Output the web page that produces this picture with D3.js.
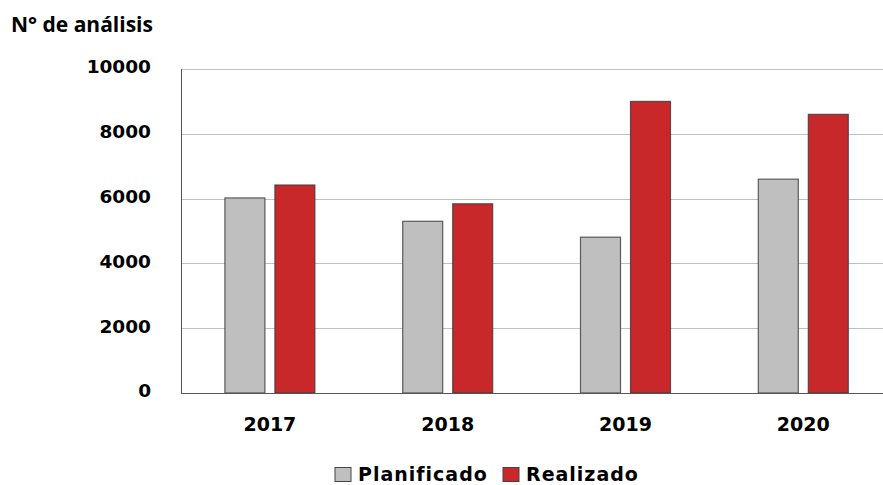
<!DOCTYPE html>
<html>
<head>
<meta charset="utf-8">
<script src="https://cdn.jsdelivr.net/npm/d3@7"></script>
<style>
  body { margin: 0; background: #fff; }
  svg { display: block; }
</style>
</head>
<body>
<div id="chart"></div>
<script>
// Chart data
const years = ["2017", "2018", "2019", "2020"];
const planificado = [6020, 5300, 4810, 6600];
const realizado = [6420, 5840, 9000, 8600];
const seriesNames = ["Planificado", "Realizado"];
const yTicks = [0, 2000, 4000, 6000, 8000, 10000];

const width = 883, height = 485;
const margin = { left: 181, top: 69, bottom: 92 };
const colors = ["#bfbfbf", "#c8282a"];
const labelFont = "'DejaVu Sans', Verdana, sans-serif";

const svg = d3.select("#chart")
    .append("svg")
    .attr("width", width)
    .attr("height", height);

// Scales
const x = d3.scaleBand()
    .domain(years)
    .range([margin.left, margin.left + 4 * 177.8]);

const y = d3.scaleLinear()
    .domain([0, 10000])
    .range([height - margin.bottom, margin.top]);

// Gridlines
svg.append("g")
    .selectAll("line")
    .data(yTicks.filter(d => d > 0))
    .enter()
    .append("line")
    .attr("x1", margin.left)
    .attr("x2", width)
    .attr("y1", d => Math.round(y(d)) + 0.5)
    .attr("y2", d => Math.round(y(d)) + 0.5)
    .attr("stroke", "#c0c0c0")
    .attr("stroke-width", 1);

// Y tick labels
svg.append("g")
    .selectAll("text")
    .data(yTicks)
    .enter()
    .append("text")
    .attr("x", 151)
    .attr("y", d => y(d) - 2)
    .attr("dy", "0.35em")
    .attr("text-anchor", "end")
    .style("font-family", labelFont)
    .style("font-weight", "bold")
    .style("font-size", "18.5px")
    .text(d => d);

// Bars
const barW = 40, gap = 10;
const groups = svg.append("g")
    .selectAll("g")
    .data(years.map((yr, i) => ({ yr, vals: [planificado[i], realizado[i]] })))
    .enter()
    .append("g");

groups.selectAll("rect")
    .data(d => d.vals.map((v, j) => ({ yr: d.yr, v, j })))
    .enter()
    .append("rect")
    .attr("x", d => x(d.yr) + x.bandwidth() / 2 + (d.j === 0 ? -(barW + gap / 2) : gap / 2))
    .attr("y", d => y(d.v))
    .attr("width", barW)
    .attr("height", d => y(0) - y(d.v))
    .attr("fill", d => colors[d.j])
    .attr("stroke", "#3a3a3a")
    .attr("stroke-opacity", 0.8)
    .attr("stroke-width", 1.2);

// Axis lines
svg.append("line")
    .attr("x1", margin.left + 0.5).attr("x2", margin.left + 0.5)
    .attr("y1", margin.top).attr("y2", y(0))
    .attr("stroke", "#555").attr("stroke-width", 1);
svg.append("line")
    .attr("x1", margin.left).attr("x2", width)
    .attr("y1", y(0) + 0.5).attr("y2", y(0) + 0.5)
    .attr("stroke", "#555").attr("stroke-width", 1.2);

// X labels
svg.append("g")
    .selectAll("text")
    .data(years)
    .enter()
    .append("text")
    .attr("x", d => x(d) + x.bandwidth() / 2)
    .attr("y", 431)
    .attr("text-anchor", "middle")
    .style("font-family", labelFont)
    .style("font-weight", "bold")
    .style("font-size", "19px")
    .text(d => d);

// Title
svg.append("text")
    .attr("x", 11)
    .attr("y", 32)
    .style("font-family", "'Open Sans', sans-serif")
    .style("font-weight", "bold")
    .style("font-size", "21px")
    .text("N° de análisis");

// Legend
const legend = svg.append("g");
const legendX = [335, 503];
seriesNames.forEach((name, i) => {
    legend.append("rect")
        .attr("x", legendX[i])
        .attr("y", 467.5)
        .attr("width", 16)
        .attr("height", 14)
        .attr("fill", colors[i])
        .attr("stroke", "#444")
        .attr("stroke-width", 1);
    legend.append("text")
        .attr("x", legendX[i] + 23)
        .attr("y", 481)
        .style("font-family", labelFont)
        .style("font-weight", "bold")
        .style("font-size", "19px")
        .style("letter-spacing", "1px")
        .text(name);
});
</script>
</body>
</html>
